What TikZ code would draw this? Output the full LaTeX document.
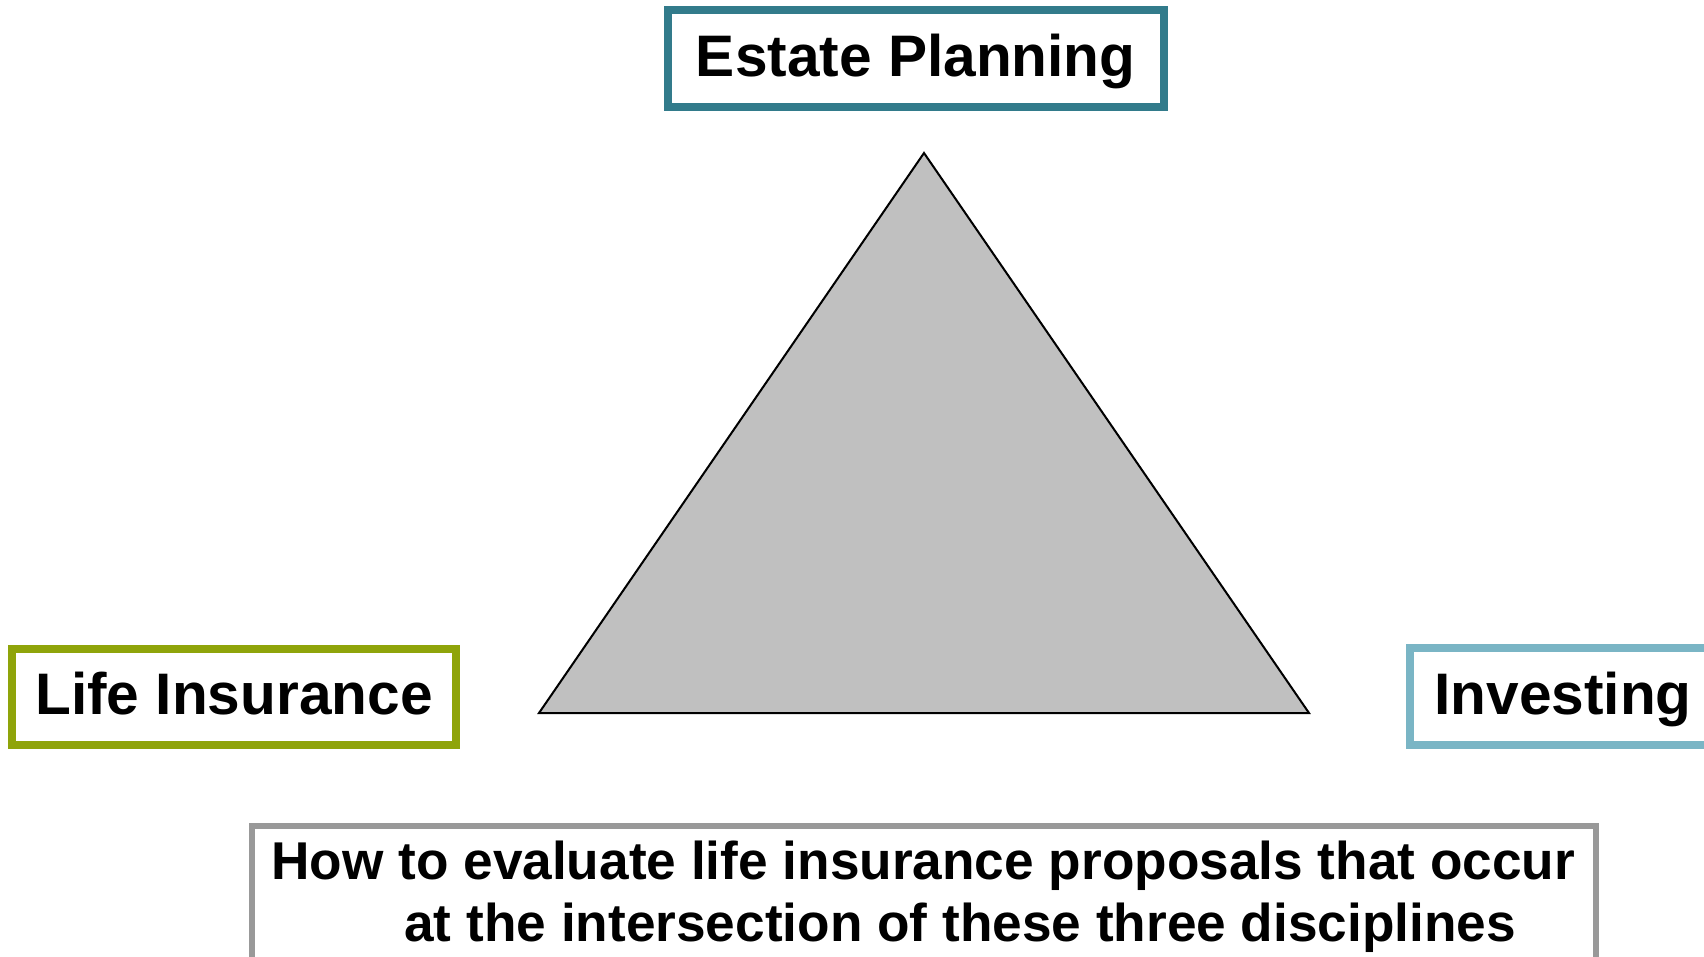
\documentclass[tikz,border=0pt]{standalone}
\usepackage{fontspec}
\setmainfont{Liberation Sans}
\definecolor{estateteal}{RGB}{50,123,139}
\definecolor{lifeolive}{RGB}{143,164,10}
\definecolor{investblue}{RGB}{122,181,197}
\definecolor{framegray}{RGB}{153,153,153}
\definecolor{wedgegray}{RGB}{192,192,192}
\begin{document}
\begin{tikzpicture}[x=0.5pt, y=-0.5pt,
  topic/.style={draw, line width=4pt, fill=white, inner sep=0pt,
    font=\fontsize{29.3pt}{35pt}\selectfont\bfseries,
    text height=21pt, text depth=3pt},
  frame/.style={draw=framegray, line width=3pt, fill=white, inner sep=0pt},
  caption/.style={inner sep=0pt, align=left,
    font=\fontsize{26.6pt}{31pt}\selectfont\bfseries}]
  \path[use as bounding box, clip] (0,0) rectangle (1704,957);

  % the three disciplines around the triangle
  \coordinate (apex)  at (924,153);
  \coordinate (left)  at (539,713);
  \coordinate (right) at (1309,713);
  \draw[line width=1pt, fill=wedgegray, line join=miter] (apex) -- (left) -- (right) -- cycle;

  \node[topic, draw=estateteal, minimum width=247.75pt, minimum height=48.5pt]
    (estate) at (915.75,58.5) {Estate Planning};
  \node[topic, draw=lifeolive, minimum width=222pt, minimum height=47.75pt]
    (life) at (234,696.75) {Life Insurance};
  \node[topic, draw=investblue, minimum width=153.5pt, minimum height=48.25pt]
    (invest) at (1563,696.25) {Investing};

  % question box along the bottom (base anchor sits on the last line)
  \node[frame, minimum width=672pt, minimum height=97pt] (question) at (924,923) {};
  \node[caption, anchor=base west] (questiontext) at (271,941)
    {How to evaluate life insurance proposals that occur\\
     \hspace*{66.5pt}at the intersection of these three disciplines};
\end{tikzpicture}
\end{document}
